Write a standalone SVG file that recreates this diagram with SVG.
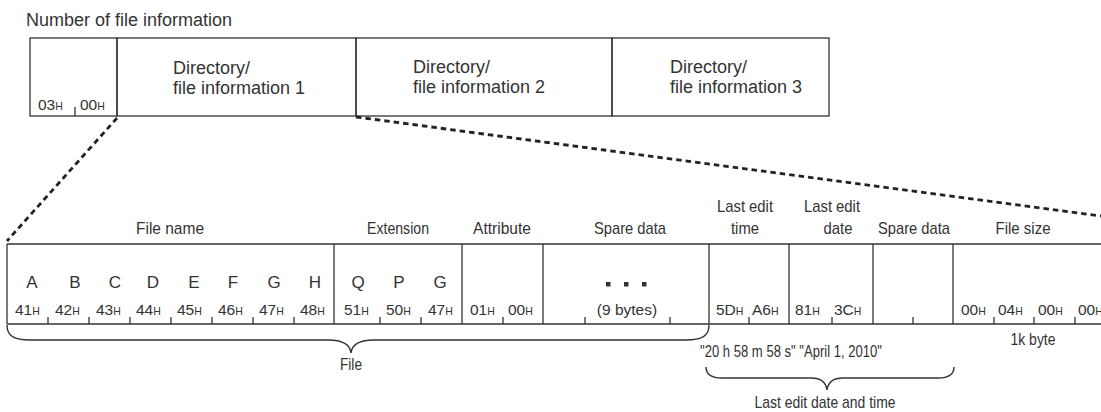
<svg xmlns="http://www.w3.org/2000/svg" width="1101" height="412" viewBox="0 0 1101 412">
<style>
text{font-family:"Liberation Sans",Arial,sans-serif;fill:#333}
.big{font-size:18px}
.hd{font-size:17px;text-anchor:middle}
.ch{font-size:17px;text-anchor:middle}
.hx{font-size:15.5px}
.hx tspan{font-size:10.5px}
.box{fill:none;stroke:#333;stroke-width:1.3}
.tk{stroke:#333;stroke-width:1.3}
.dash{fill:none;stroke:#222;stroke-width:2.8;stroke-dasharray:5.5 4}
.brace{fill:none;stroke:#333;stroke-width:1.4}
.dot{fill:#333}
</style>
<rect width="1101" height="412" fill="#fff"/>
<text class="big" x="26" y="26">Number of file information</text>

<g id="top-count">
<rect class="box" x="30" y="38" width="87" height="78"/>
<line class="tk" x1="75" y1="107" x2="75" y2="116"/>
<text class="hx" x="38" y="110">03<tspan>H</tspan></text>
<text class="hx" x="80" y="110">00<tspan>H</tspan></text>
</g>
<g id="top-info1">
<rect class="box" x="117" y="38" width="239" height="78"/>
<text class="big" x="173" y="74">Directory/</text>
<text class="big" x="173" y="94">file information 1</text>
</g>
<g id="top-info2">
<rect class="box" x="356" y="38" width="256" height="78"/>
<text class="big" x="413" y="73">Directory/</text>
<text class="big" x="413" y="93">file information 2</text>
</g>
<g id="top-info3">
<rect class="box" x="612" y="38" width="217" height="78"/>
<text class="big" x="670" y="73">Directory/</text>
<text class="big" x="670" y="93">file information 3</text>
</g>

<g id="connectors">
<line class="dash" x1="117" y1="118" x2="7" y2="241"/>
<line class="dash" x1="356" y1="117" x2="1101" y2="216"/>
</g>

<g id="table-frame">
<line class="tk" x1="7" y1="244" x2="1101" y2="244"/>
<line class="tk" x1="7" y1="324" x2="1101" y2="324"/>
<line class="tk" x1="7" y1="244" x2="7" y2="324"/>
</g>

<g id="file-name">
<text class="hd" x="170" y="234" textLength="68" lengthAdjust="spacingAndGlyphs">File name</text>
<text class="ch" x="32" y="288">A</text>
<text class="ch" x="75" y="288">B</text>
<text class="ch" x="115" y="288">C</text>
<text class="ch" x="153" y="288">D</text>
<text class="ch" x="194" y="288">E</text>
<text class="ch" x="233" y="288">F</text>
<text class="ch" x="274" y="288">G</text>
<text class="ch" x="315" y="288">H</text>
<text class="hx" x="15" y="315">41<tspan>H</tspan></text>
<text class="hx" x="55" y="315">42<tspan>H</tspan></text>
<text class="hx" x="96" y="315">43<tspan>H</tspan></text>
<text class="hx" x="136" y="315">44<tspan>H</tspan></text>
<text class="hx" x="177" y="315">45<tspan>H</tspan></text>
<text class="hx" x="218" y="315">46<tspan>H</tspan></text>
<text class="hx" x="259" y="315">47<tspan>H</tspan></text>
<text class="hx" x="300" y="315">48<tspan>H</tspan></text>
<line class="tk" x1="48" y1="317" x2="48" y2="324"/>
<line class="tk" x1="89" y1="317" x2="89" y2="324"/>
<line class="tk" x1="130" y1="317" x2="130" y2="324"/>
<line class="tk" x1="171" y1="317" x2="171" y2="324"/>
<line class="tk" x1="212" y1="317" x2="212" y2="324"/>
<line class="tk" x1="253" y1="317" x2="253" y2="324"/>
<line class="tk" x1="294" y1="317" x2="294" y2="324"/>
<line class="tk" x1="334" y1="244" x2="334" y2="324"/>
</g>

<g id="extension">
<text class="hd" x="398" y="234" textLength="62" lengthAdjust="spacingAndGlyphs">Extension</text>
<text class="ch" x="358" y="288">Q</text>
<text class="ch" x="399" y="288">P</text>
<text class="ch" x="440" y="288">G</text>
<text class="hx" x="344" y="315">51<tspan>H</tspan></text>
<text class="hx" x="386" y="315">50<tspan>H</tspan></text>
<text class="hx" x="428" y="315">47<tspan>H</tspan></text>
<line class="tk" x1="380" y1="317" x2="380" y2="324"/>
<line class="tk" x1="421" y1="317" x2="421" y2="324"/>
<line class="tk" x1="462" y1="244" x2="462" y2="324"/>
</g>

<g id="attribute">
<text class="hd" x="502" y="234" textLength="58" lengthAdjust="spacingAndGlyphs">Attribute</text>
<text class="hx" x="470" y="315">01<tspan>H</tspan></text>
<text class="hx" x="508" y="315">00<tspan>H</tspan></text>
<line class="tk" x1="503" y1="317" x2="503" y2="324"/>
<line class="tk" x1="543" y1="244" x2="543" y2="324"/>
</g>

<g id="spare-data-1">
<text class="hd" x="630" y="234" textLength="72" lengthAdjust="spacingAndGlyphs">Spare data</text>
<rect class="dot" x="606" y="282" width="4.5" height="4.5"/>
<rect class="dot" x="624" y="282" width="4.5" height="4.5"/>
<rect class="dot" x="642" y="282" width="4.5" height="4.5"/>
<text class="ch" x="627" y="315" style="font-size:15.5px">(9 bytes)</text>
<line class="tk" x1="585" y1="317" x2="585" y2="324"/>
<line class="tk" x1="670" y1="317" x2="670" y2="324"/>
<line class="tk" x1="709" y1="244" x2="709" y2="324"/>
</g>

<g id="last-edit-time">
<text class="hd" x="745" y="212" textLength="56" lengthAdjust="spacingAndGlyphs">Last edit</text>
<text class="hd" x="745" y="234" textLength="28" lengthAdjust="spacingAndGlyphs">time</text>
<text class="hx" x="716" y="315">5D<tspan>H</tspan></text>
<text class="hx" x="752" y="315">A6<tspan>H</tspan></text>
<line class="tk" x1="749" y1="317" x2="749" y2="324"/>
<line class="tk" x1="789" y1="244" x2="789" y2="324"/>
</g>

<g id="last-edit-date">
<text class="hd" x="832" y="212" textLength="56" lengthAdjust="spacingAndGlyphs">Last edit</text>
<text class="hd" x="838" y="234" textLength="29" lengthAdjust="spacingAndGlyphs">date</text>
<text class="hx" x="795" y="315">81<tspan>H</tspan></text>
<text class="hx" x="834" y="315">3C<tspan>H</tspan></text>
<line class="tk" x1="832" y1="317" x2="832" y2="324"/>
<line class="tk" x1="873" y1="244" x2="873" y2="324"/>
</g>

<g id="spare-data-2">
<text class="hd" x="914" y="234" textLength="72" lengthAdjust="spacingAndGlyphs">Spare data</text>
<line class="tk" x1="913" y1="317" x2="913" y2="324"/>
<line class="tk" x1="953" y1="244" x2="953" y2="324"/>
</g>

<g id="file-size">
<text class="hd" x="1023" y="234" textLength="55" lengthAdjust="spacingAndGlyphs">File size</text>
<text class="hx" x="961" y="315">00<tspan>H</tspan></text>
<text class="hx" x="998" y="315">04<tspan>H</tspan></text>
<text class="hx" x="1038" y="315">00<tspan>H</tspan></text>
<text class="hx" x="1078" y="315">00<tspan>H</tspan></text>
<line class="tk" x1="994" y1="317" x2="994" y2="324"/>
<line class="tk" x1="1034" y1="317" x2="1034" y2="324"/>
<line class="tk" x1="1075" y1="317" x2="1075" y2="324"/>
<text class="hd" x="1033" y="345" textLength="45" lengthAdjust="spacingAndGlyphs">1k byte</text>
</g>

<g id="file-brace">
<path class="brace" d="M7,325 C7,336 14,340 30,340 L328,340 C343,340 350,344 351,353 C352,344 359,340 374,340 L686,340 C702,340 709,336 709,325"/>
<text class="hd" x="351" y="370" textLength="22" lengthAdjust="spacingAndGlyphs">File</text>
</g>

<g id="date-time-brace">
<text class="hd" x="791" y="357" textLength="182" lengthAdjust="spacingAndGlyphs">"20 h 58 m 58 s" "April 1, 2010"</text>
<path class="brace" d="M706,367 C706,374 711,378 722,378 L811,378 C821,378 826,382 827,390 C828,382 833,378 843,378 L938,378 C949,378 954,374 954,367"/>
<text class="hd" x="825" y="408" textLength="141" lengthAdjust="spacingAndGlyphs">Last edit date and time</text>
</g>
</svg>
